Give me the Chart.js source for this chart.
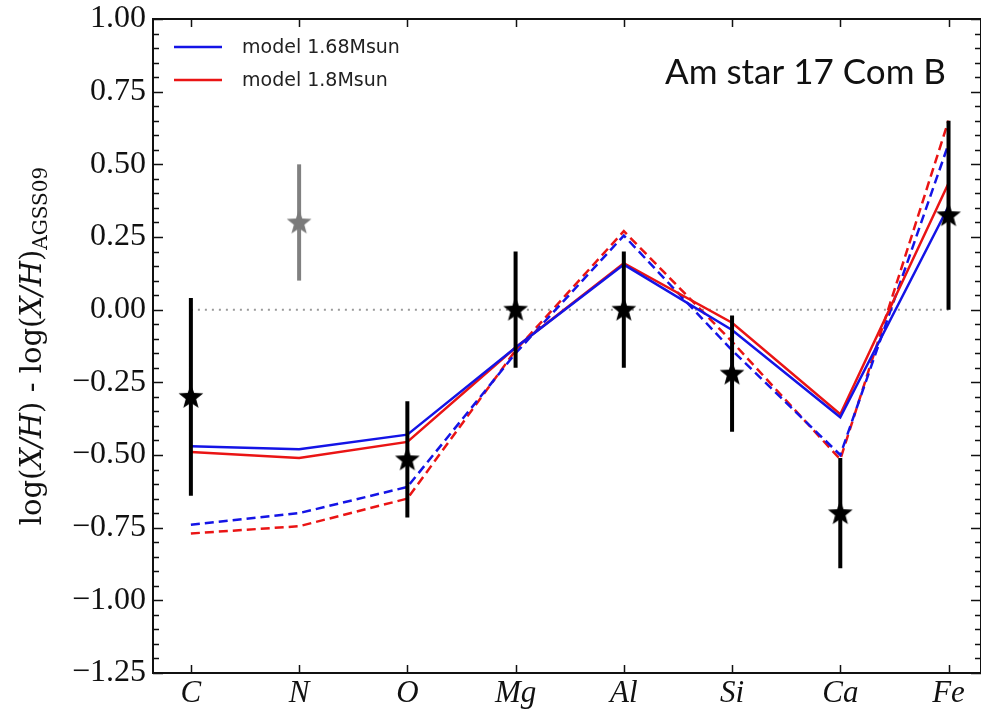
<!DOCTYPE html>
<html>
<head>
<meta charset="utf-8">
<script src="https://cdn.jsdelivr.net/npm/chart.js@4.4.0/dist/chart.umd.min.js"></script>
<style>
  html, body { margin: 0; padding: 0; background: #fff; }
</style>
</head>
<body>
<canvas id="abundChart" width="981" height="709"></canvas>
<script>
// element abundances relative to AGSS09
const elements = ['C', 'N', 'O', 'Mg', 'Al', 'Si', 'Ca', 'Fe'];
const model168Solid  = [-0.47, -0.48, -0.43, -0.13, 0.155, -0.07, -0.37, 0.355];
const model18Solid   = [-0.49, -0.51, -0.455, -0.13, 0.16, -0.045, -0.36, 0.435];
const model168Dashed = [-0.74, -0.70, -0.61, -0.15, 0.255, -0.14, -0.50, 0.57];
const model18Dashed  = [-0.77, -0.745, -0.65, -0.14, 0.27, -0.11, -0.515, 0.65];
const obsValues = [-0.30, 0.30, -0.515, 0.00, 0.00, -0.22, -0.70, 0.325];
const obsErrors = [0.34, 0.20, 0.20, 0.20, 0.20, 0.20, 0.19, 0.325];
const obsUsed   = [true, false, true, true, true, true, true, true];
const zeroLine  = [0, 0, 0, 0, 0, 0, 0, 0];
const yTicks = [-1.25, -1.0, -0.75, -0.5, -0.25, 0, 0.25, 0.5, 0.75, 1.0];

const BLUE = '#1414e6';
const RED = '#ea1414';

function starImage(color) {
  const c = document.createElement('canvas');
  c.width = 28; c.height = 28;
  const g = c.getContext('2d');
  g.fillStyle = color;
  g.beginPath();
  for (let k = 0; k < 10; k++) {
    const r = k % 2 === 0 ? 13 : 5.5;
    const a = -Math.PI / 2 + k * Math.PI / 5;
    const px = 14 + r * Math.cos(a), py = 14.5 + r * Math.sin(a);
    if (k === 0) g.moveTo(px, py); else g.lineTo(px, py);
  }
  g.closePath();
  g.fill();
  return c;
}

const toPts = arr => arr.map((v, i) => ({ x: i, y: v }));

function errorBarPoints(keep) {
  const pts = [];
  obsValues.forEach((v, i) => {
    if (obsUsed[i] !== keep) return;
    pts.push({ x: i, y: v - obsErrors[i] }, { x: i, y: v + obsErrors[i] }, { x: i, y: null });
  });
  return pts;
}
function starPoints(keep) {
  return obsValues.map((v, i) => ({ x: i, y: v })).filter((p, i) => obsUsed[i] === keep);
}

function fmt(v) {
  const s = Math.abs(v).toFixed(2);
  return v < -1e-9 ? '\u2212' + s : s;
}

// frame, inward ticks, legend, title and y label
const decorPlugin = {
  id: 'decor',
  afterDraw(chart) {
    const { ctx, chartArea: a, scales } = chart;
    const xs = scales.x, ys = scales.y;
    ctx.save();
    ctx.strokeStyle = '#111';
    ctx.lineWidth = 2;
    ctx.strokeRect(a.left, a.top, a.right - a.left, a.bottom - a.top);

    ctx.lineWidth = 1.5;
    ctx.beginPath();
    for (let k = 0; k <= 45; k++) {
      const v = -1.25 + k * 0.05;
      const y = Math.round(ys.getPixelForValue(v)) + 0.5;
      const len = k % 5 === 0 ? 10 : 6;
      ctx.moveTo(a.left, y); ctx.lineTo(a.left + len, y);
      ctx.moveTo(a.right, y); ctx.lineTo(a.right - len, y);
    }
    elements.forEach((e, i) => {
      const x = Math.round(xs.getPixelForValue(i)) + 0.5;
      ctx.moveTo(x, a.bottom); ctx.lineTo(x, a.bottom - 8);
      ctx.moveTo(x, a.top); ctx.lineTo(x, a.top + 8);
    });
    ctx.stroke();

    // legend
    const items = [chart.data.datasets[3], chart.data.datasets[4]];
    ctx.font = '19px "DejaVu Sans"';
    ctx.textBaseline = 'middle';
    items.forEach((d, i) => {
      const y = a.top + 28 + i * 33;
      ctx.strokeStyle = d.borderColor;
      ctx.lineWidth = 2.5;
      ctx.beginPath();
      ctx.moveTo(a.left + 21, y); ctx.lineTo(a.left + 69, y);
      ctx.stroke();
      ctx.fillStyle = '#222';
      ctx.fillText(d.label, a.left + 89, y + 1);
    });

    // star name
    ctx.font = '35px Lato';
    ctx.textAlign = 'right';
    ctx.textBaseline = 'alphabetic';
    ctx.fillStyle = '#111';
    ctx.fillText('Am star 17 Com B', 946, 84);

    // y axis title, rotated
    const big = '29px "DejaVu Serif"';
    const ital = 'italic 29px "DejaVu Serif"';
    const sub = '20px "DejaVu Serif"';
    const parts = [
      { t: 'log(', f: big }, { t: 'X/H', f: ital }, { t: ') - log(', f: big },
      { t: 'X/H', f: ital }, { t: ')', f: big }, { t: 'AGSS09', f: sub, dy: 6 }
    ];
    let total = 0;
    parts.forEach(p => { ctx.font = p.f; p.w = ctx.measureText(p.t).width; total += p.w; });
    ctx.translate(41, (a.top + a.bottom) / 2);
    ctx.rotate(-Math.PI / 2);
    ctx.textAlign = 'left';
    let x = -total / 2;
    parts.forEach(p => {
      ctx.font = p.f;
      ctx.fillText(p.t, x, p.dy || 0);
      x += p.w;
    });
    ctx.restore();
  }
};

const lineDs = (label, data, color, dash) => ({
  label, data: toPts(data), showLine: true, borderColor: color, backgroundColor: color,
  borderWidth: 2.5, borderDash: dash || [], pointRadius: 0, tension: 0
});

new Chart(document.getElementById('abundChart'), {
  type: 'scatter',
  data: {
    datasets: [
      { label: 'obs', data: starPoints(true), pointStyle: starImage('#000'), pointRadius: 12 },
      { label: 'obs N', data: starPoints(false), pointStyle: starImage('#7a7a7a'), pointRadius: 12 },
      { label: 'err', data: errorBarPoints(true), showLine: true, spanGaps: false, borderColor: '#000', borderWidth: 4, pointRadius: 0 },
      lineDs('model 1.68Msun', model168Solid, BLUE),
      lineDs('model 1.8Msun', model18Solid, RED),
      lineDs('model 1.68Msun dashed', model168Dashed, BLUE, [9, 5]),
      lineDs('model 1.8Msun dashed', model18Dashed, RED, [9, 5]),
      { label: 'err N', data: errorBarPoints(false), showLine: true, spanGaps: false, borderColor: '#808080', borderWidth: 4, pointRadius: 0 },
      { label: 'zero', data: toPts(zeroLine), showLine: true, borderColor: '#9a9a9a', borderWidth: 2, borderDash: [2, 5], pointRadius: 0 }
    ]
  },
  options: {
    responsive: false,
    animation: false,
    layout: { autoPadding: false, padding: { top: 19, right: 0, left: 0, bottom: 0 } },
    plugins: { legend: { display: false }, tooltip: { enabled: false } },
    scales: {
      x: {
        type: 'linear', min: -0.35, max: 7.3,
        afterBuildTicks: s => { s.ticks = elements.map((e, i) => ({ value: i })); },
        afterFit: s => { s.height = 36; s.paddingLeft = 0; s.paddingRight = 0; },
        grid: { display: false, drawTicks: false },
        border: { display: false },
        ticks: {
          callback: v => elements[v], autoSkip: false, maxRotation: 0, padding: 2,
          color: '#111', font: { family: 'Liberation Serif', style: 'italic', size: 31 }
        }
      },
      y: {
        min: -1.25, max: 1.0,
        afterBuildTicks: s => { s.ticks = yTicks.map(v => ({ value: v })); },
        afterFit: s => { s.width = 153; s.paddingTop = 0; s.paddingBottom = 0; },
        grid: { display: false, drawTicks: false },
        border: { display: false },
        ticks: {
          callback: v => fmt(v), padding: 7,
          color: '#111', font: { family: 'Liberation Serif', size: 32 }
        }
      }
    }
  },
  plugins: [decorPlugin]
});
</script>
</body>
</html>
